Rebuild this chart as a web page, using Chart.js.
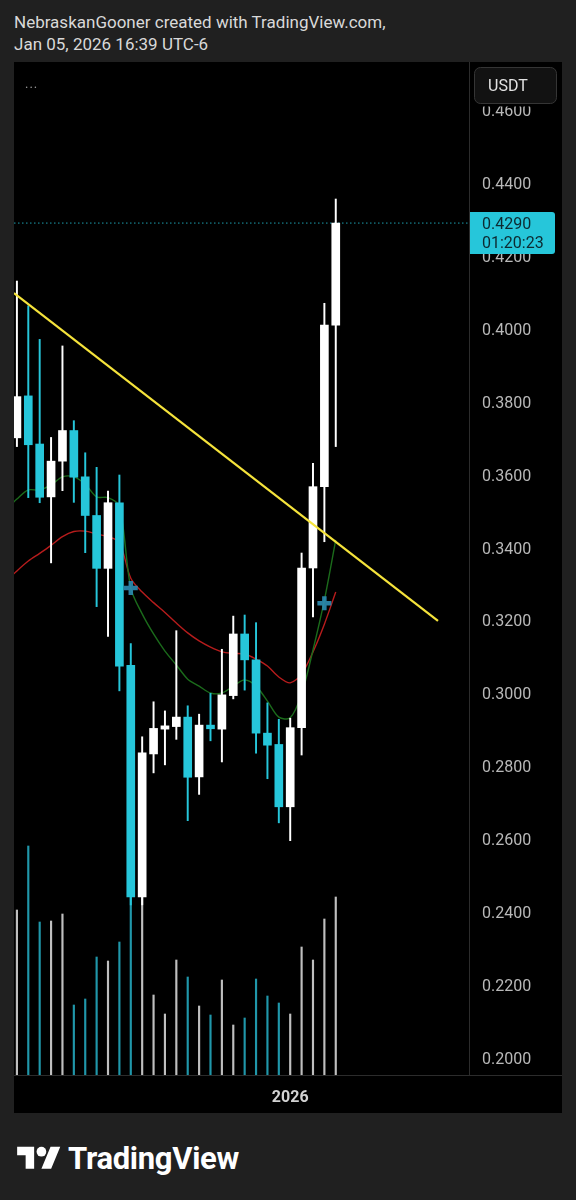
<!DOCTYPE html>
<html>
<head>
<meta charset="utf-8">
<script src="https://cdn.jsdelivr.net/npm/chart.js@4/dist/chart.umd.min.js"></script>
<style>
  html, body { margin: 0; padding: 0; background: #202020; width: 576px; height: 1200px; overflow: hidden; font-family: Roboto, "Noto Sans", sans-serif; }
  .hdr { position: absolute; left: 14px; color: #d9d9d9; font-size: 17px; line-height: 22px; white-space: nowrap; }
  #pane { position: absolute; left: 14px; top: 62px; width: 548px; height: 1051px; background: #000; }
  #dots { position: absolute; left: 25px; top: 76px; color: #9a9a9a; font-size: 13px; letter-spacing: 1px; }
  #footer { position: absolute; left: 17px; top: 1140px; display: flex; align-items: center; }
  #footer span { color: #fff; font-size: 31px; font-weight: 700; margin-left: 7px; letter-spacing: -0.3px; }
</style>
</head>
<body>
<div class="hdr" style="top:11px">NebraskanGooner created with TradingView.com,</div>
<div class="hdr" style="top:33px">Jan 05, 2026 16:39 UTC-6</div>
<div id="pane"><canvas id="c" width="548" height="1051"></canvas></div>
<div id="dots">...</div>
<div id="footer">
  <svg width="44" height="34" viewBox="0 0 36 28"><path fill="#fff" d="M14 22H7V11H0V4h14v18zM28 22h-8l7.5-18h8L28 22z"/><circle fill="#fff" cx="20" cy="8" r="4"/></svg>
  <span>TradingView</span>
</div>
<script>
// ---- data ----
const candleIndex = [0,1,2,3,4,5,6,7,8,9,10,11,12,13,14,15,16,17,18,19,20,21,22,23,24,25,26,27,28];
const opens  = [0.3701,0.3816,0.3684,0.3539,0.3637,0.3721,0.3594,0.3488,0.3343,0.3523,0.3077,0.2442,0.2834,0.2902,0.2909,0.2935,0.2771,0.2913,0.2902,0.2994,0.3163,0.3092,0.2891,0.2860,0.2689,0.2906,0.3344,0.3567,0.4010];
const highs  = [0.4131,0.4063,0.3971,0.3702,0.3953,0.3748,0.3660,0.3620,0.3555,0.3599,0.3137,0.2881,0.2977,0.2952,0.3172,0.2966,0.2943,0.3000,0.3121,0.3212,0.3215,0.3194,0.2974,0.2929,0.2932,0.3385,0.3631,0.4070,0.4356];
const lows   = [0.3677,0.3537,0.3523,0.3358,0.3556,0.3524,0.3386,0.3238,0.3156,0.3007,0.2420,0.2420,0.2782,0.2804,0.2874,0.2651,0.2723,0.2870,0.2812,0.2985,0.3009,0.2836,0.2766,0.2645,0.2596,0.2831,0.3210,0.3416,0.3677];
const closes = [0.3814,0.3682,0.3538,0.3637,0.3721,0.3593,0.3488,0.3343,0.3523,0.3075,0.2442,0.2837,0.2904,0.2911,0.2935,0.2770,0.2913,0.2903,0.2996,0.3163,0.3092,0.2891,0.2858,0.2689,0.2906,0.3344,0.3567,0.4010,0.4290];
const volumes = [16.5,22.9,15.3,15.4,16.1,7.0,7.6,11.8,11.4,13.3,20.0,19.0,8.0,6.1,11.5,9.8,6.9,6.0,9.5,5.0,5.7,9.6,7.9,7.2,6.1,12.8,11.5,15.6,17.8];
const maIndex = [-1,0,1,2,3,4,5,6,7,8,9,10,11,12,13,14,15,16,17,18,19,20,21,22,23,24,25,26,27,28];
const maFast = [0.3503,0.3533,0.3558,0.3558,0.3572,0.3594,0.3594,0.3574,0.3539,0.3537,0.3514,0.3289,0.3218,0.3163,0.3116,0.3078,0.3039,0.3020,0.3001,0.3001,0.3020,0.3037,0.3020,0.2979,0.2935,0.2933,0.2998,0.3119,0.3256,0.3421];
const maSlow = [0.3306,0.3336,0.3363,0.3384,0.3406,0.3430,0.3444,0.3445,0.3437,0.3430,0.3414,0.3316,0.3278,0.3249,0.3222,0.3193,0.3166,0.3144,0.3127,0.3114,0.3110,0.3108,0.3094,0.3075,0.3045,0.3029,0.3053,0.3114,0.3190,0.3278];
const trendX = [-0.255, 36.977];
const trendY = [0.4098, 0.3199];
const markerX = [10, 27];
const markerY = [0.3289, 0.3247];
const priceTicks = [0.20,0.22,0.24,0.26,0.28,0.30,0.32,0.34,0.36,0.38,0.40,0.42,0.44,0.46];
const timeTickIndex = [24];
const timeTickLabels = ['2026'];
const lastPrice = 0.4290;
const countdown = '01:20:23';
const currency = 'USDT';

// ---- styles ----
const UP = '#ffffff', DOWN = '#26c6da';
const VUP = 'rgba(225,225,225,0.85)', VDOWN = 'rgba(38,178,200,0.85)';
const isUp = candleIndex.map((_, i) => closes[i] >= opens[i]);

const xMin = -0.255, xMax = 39.70;

const overlay = {
  id: 'overlay',
  afterDraw(chart) {
    const ctx = chart.ctx, y = chart.scales.y, area = chart.chartArea;
    ctx.save();
    ctx.strokeStyle = '#2c2c2c'; ctx.lineWidth = 1;
    ctx.beginPath(); ctx.moveTo(0, area.bottom + 0.5); ctx.lineTo(chart.width, area.bottom + 0.5); ctx.stroke();
    const py = y.getPixelForValue(lastPrice);
    ctx.fillStyle = '#26c6da';
    ctx.beginPath(); ctx.roundRect(area.right + 1, py - 11, 85, 42, [0, 3, 3, 0]); ctx.fill();
    ctx.fillStyle = '#0d2a31'; ctx.font = '16px Roboto'; ctx.textBaseline = 'middle'; ctx.textAlign = 'left';
    ctx.fillText(lastPrice.toFixed(4), area.right + 13, py + 2);
    ctx.fillText(countdown, area.right + 13, py + 21);
    // top strip of price scale (covers label under currency button)
    ctx.fillStyle = '#000';
    ctx.fillRect(area.right + 1, 0, chart.width - area.right - 1, 44.5);
    ctx.fillStyle = '#121212'; ctx.strokeStyle = '#353535';
    ctx.beginPath(); ctx.roundRect(area.right + 5.5, 5.5, 82, 36, 6); ctx.fill(); ctx.stroke();
    ctx.fillStyle = '#e2e2e2'; ctx.font = '16px Roboto';
    ctx.fillText(currency, area.right + 19, 25);
    ctx.restore();
  }
};

new Chart(document.getElementById('c'), {
  type: 'bar',
  data: {
    datasets: [
      { type: 'line', label: 'last', data: [{x: xMin, y: lastPrice}, {x: xMax, y: lastPrice}], borderColor: 'rgba(38,198,218,0.8)', borderWidth: 1, borderDash: [1.5, 2.5], pointRadius: 0, order: 20 },
      { label: 'volume', data: candleIndex.map((x, i) => ({x, y: volumes[i]})), yAxisID: 'y2', backgroundColor: isUp.map(u => u ? VUP : VDOWN), barThickness: 1.5, grouped: false, order: 15 },
      { type: 'line', label: 'maSlow', data: maIndex.map((x, i) => ({x, y: maSlow[i]})), borderColor: '#b71c1c', borderWidth: 1.4, pointRadius: 0, tension: 0.3, order: 12 },
      { type: 'line', label: 'maFast', data: maIndex.map((x, i) => ({x, y: maFast[i]})), borderColor: '#1b6b1b', borderWidth: 1.4, pointRadius: 0, tension: 0.3, order: 11 },
      { label: 'wick', data: candleIndex.map((x, i) => ({x, y: [lows[i], highs[i]]})), backgroundColor: isUp.map(u => u ? UP : DOWN), barThickness: 1.3, grouped: false, order: 6 },
      { label: 'body', data: candleIndex.map((x, i) => ({x, y: [opens[i], closes[i]]})), backgroundColor: isUp.map(u => u ? UP : DOWN), barThickness: 8, grouped: false, order: 5 },
      { type: 'line', label: 'trend', data: trendX.map((x, i) => ({x, y: trendY[i]})), borderColor: '#f5e33b', borderWidth: 2.2, pointRadius: 0, order: 2 },
      { type: 'line', label: 'markers', data: markerX.map((x, i) => ({x, y: markerY[i]})), showLine: false, pointStyle: 'cross', pointRadius: 7, pointBorderWidth: 4.5, pointBorderColor: 'rgba(44,140,178,0.9)', pointBackgroundColor: 'rgba(44,140,178,0.9)', order: 1 }
    ]
  },
  options: {
    responsive: false, animation: false, devicePixelRatio: 1,
    layout: { padding: 0, autoPadding: false },
    plugins: { legend: { display: false }, tooltip: { enabled: false } },
    scales: {
      x: {
        type: 'linear', min: xMin, max: xMax, offset: false,
        grid: { display: false, drawTicks: false },
        border: { display: false },
        afterBuildTicks: (s) => { s.ticks = timeTickIndex.map(v => ({value: v})); },
        afterFit: (s) => { s.height = 38; s.paddingLeft = 0; s.paddingRight = 0; s.paddingTop = 0; s.paddingBottom = 0; },
        ticks: { padding: 13, maxRotation: 0, autoSkip: false, color: '#d2d2d2', font: { family: 'Roboto', size: 16, weight: 'bold' },
          callback: (v) => { const k = timeTickIndex.indexOf(v); return k >= 0 ? timeTickLabels[k] : ''; } }
      },
      y: {
        type: 'linear', position: 'right', min: 0.195337, max: 0.47318,
        grid: { display: false, drawTicks: false },
        border: { display: true, color: '#2c2c2c' },
        afterBuildTicks: (s) => { s.ticks = priceTicks.map(v => ({value: v})); },
        afterFit: (s) => { s.width = 93; s.paddingTop = 0; s.paddingBottom = 0; s.paddingLeft = 0; s.paddingRight = 0; },
        ticks: { padding: 13, crossAlign: 'near', autoSkip: false, color: '#b9b9b9', font: { family: 'Roboto', size: 16, lineHeight: 0.25 },
          callback: (v) => ['', Number(v).toFixed(4)] }
      },
      y2: { type: 'linear', display: false, min: 0, max: 101.3 }
    }
  },
  plugins: [overlay]
});
</script>
</body>
</html>
